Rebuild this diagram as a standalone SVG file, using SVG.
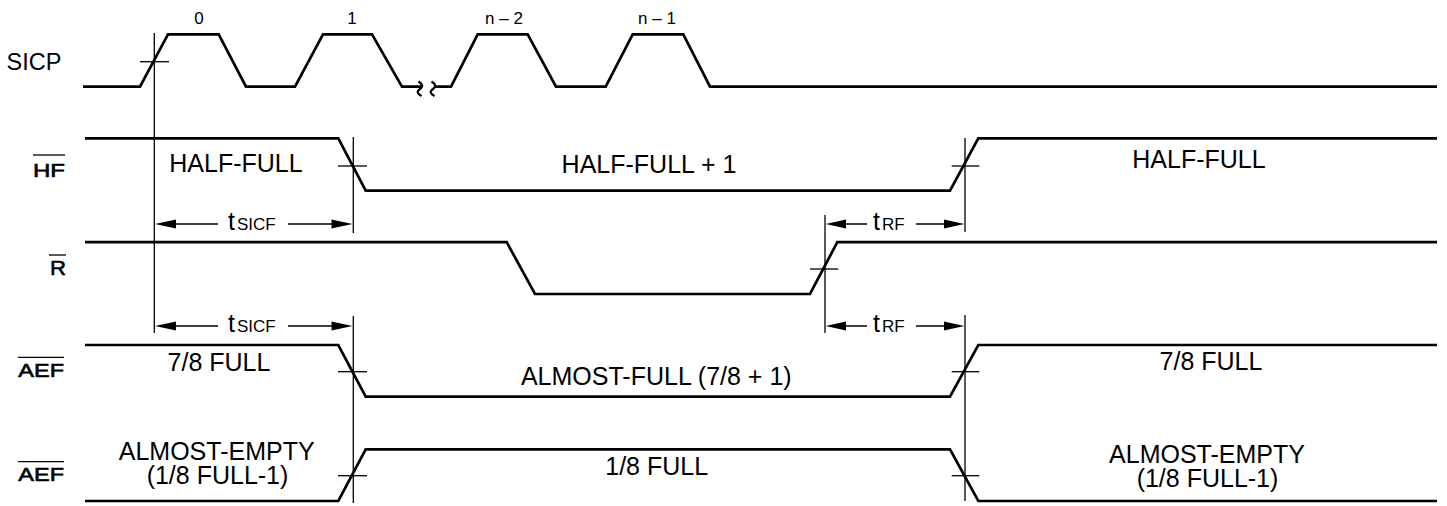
<svg xmlns="http://www.w3.org/2000/svg" width="1447" height="506" viewBox="0 0 1447 506">
<style>
  .wave { fill: none; stroke: #000; stroke-width: 2.7; stroke-linejoin: miter; }
  .thin { fill: none; stroke: #000; stroke-width: 1.3; }
  .brk { fill: none; stroke: #000; stroke-width: 2.2; }
  .head { fill: #000; stroke: none; }
  text { font-family: "Liberation Sans", Arial, sans-serif; fill: #000; }
  .lbl { font-size: 25px; text-anchor: middle; }
  .clk { font-size: 17px; text-anchor: middle; }
  .sig { font-size: 19px; stroke: #000; stroke-width: 0.6; }
  .sicp { font-size: 23.5px; }
  .sub { font-size: 17px; }
  .t { font-size: 25px; }
</style>
<rect width="1447" height="506" fill="#fff"/>

<g id="labels">
  <text class="sicp" x="6.5" y="70">SICP</text>
  <g id="label-hf"><text class="sig" x="33" y="176.7" textLength="32" lengthAdjust="spacingAndGlyphs">HF</text><line class="thin" x1="33" y1="155" x2="65" y2="155"/></g>
  <g id="label-r"><text class="sig" x="50" y="275" style="font-size:21px" textLength="16" lengthAdjust="spacingAndGlyphs">R</text><line class="thin" x1="49" y1="255" x2="66" y2="255"/></g>
  <g id="label-aef1"><text class="sig" x="18.3" y="377.3" textLength="45.7" lengthAdjust="spacingAndGlyphs">AEF</text><line class="thin" x1="18" y1="357.3" x2="64" y2="357.3"/></g>
  <g id="label-aef2"><text class="sig" x="18.3" y="480.7" textLength="45.7" lengthAdjust="spacingAndGlyphs">AEF</text><line class="thin" x1="18" y1="461.7" x2="64" y2="461.7"/></g>
</g>

<g id="sicp">
  <path class="wave" d="M83,86.7 L140,86.7 L168,34.3 L218.7,34.3 L246,86.7 L295,86.7 L323,34.3 L372,34.3 L402,86.7 L421,86.7"/>
  <path class="brk" d="M418.5,81.5 c4,2.5 5,5 1.5,7.5 c-3.5,2.5 -3,4.5 1.5,7"/>
  <path class="brk" d="M431.5,81.5 c4,2.5 5,5 1.5,7.5 c-3.5,2.5 -3,4.5 1.5,7"/>
  <path class="wave" d="M434,86.7 L451,86.7 L477.7,34.3 L527.7,34.3 L556,86.7 L605.7,86.7 L632.7,34.3 L683.3,34.3 L710,86.7 L1437,86.7"/>
  <text class="clk" x="199" y="24">0</text>
  <text class="clk" x="352" y="24">1</text>
  <text class="clk" x="504" y="24">n – 2</text>
  <text class="clk" x="657" y="24">n – 1</text>
</g>

<g id="hf">
  <path class="wave" d="M85,138.3 L338.3,138.3 L365.7,190.7 L950,190.7 L978.3,138.3 L1437,138.3"/>
  <text class="lbl" x="236" y="171.7">HALF-FULL</text>
  <text class="lbl" x="649" y="172.7">HALF-FULL + 1</text>
  <text class="lbl" x="1199" y="168.3">HALF-FULL</text>
</g>

<g id="r">
  <path class="wave" d="M85,242.2 L506.7,242.2 L535,294 L810,294 L837.3,242.2 L1437,242.2"/>
</g>

<g id="aef1">
  <path class="wave" d="M85,345 L338.3,345 L365.7,396.7 L950,396.7 L978.3,345 L1437,345"/>
  <text class="lbl" x="219" y="370.7">7/8 FULL</text>
  <text class="lbl" x="656.3" y="385">ALMOST-FULL (7/8 + 1)</text>
  <text class="lbl" x="1211" y="370">7/8 FULL</text>
</g>

<g id="aef2">
  <path class="wave" d="M85,501 L338.3,501 L365.7,449.3 L950,449.3 L978.3,501 L1437,501"/>
  <text class="lbl" x="216.7" y="460">ALMOST-EMPTY</text>
  <text class="lbl" x="217.5" y="484">(1/8 FULL-1)</text>
  <text class="lbl" x="656.7" y="475">1/8 FULL</text>
  <text class="lbl" x="1207" y="463.3">ALMOST-EMPTY</text>
  <text class="lbl" x="1207.5" y="487">(1/8 FULL-1)</text>
</g>

<g id="connectors">
  <line class="thin" x1="154.3" y1="33" x2="154.3" y2="333"/>
  <line class="thin" x1="353.3" y1="137" x2="353.3" y2="233"/>
  <line class="thin" x1="353.3" y1="316" x2="353.3" y2="503"/>
  <line class="thin" x1="825" y1="215" x2="825" y2="333"/>
  <line class="thin" x1="965" y1="138" x2="965" y2="232"/>
  <line class="thin" x1="965" y1="315" x2="965" y2="501"/>
  <line class="thin" x1="140" y1="61.7" x2="169" y2="61.7"/>
  <line class="thin" x1="338" y1="166" x2="367" y2="166"/>
  <line class="thin" x1="951.7" y1="166" x2="979.3" y2="166"/>
  <line class="thin" x1="810" y1="269" x2="838.3" y2="269"/>
  <line class="thin" x1="338" y1="371.7" x2="367" y2="371.7"/>
  <line class="thin" x1="951.7" y1="371.7" x2="979.3" y2="371.7"/>
  <line class="thin" x1="338" y1="475.7" x2="367" y2="475.7"/>
  <line class="thin" x1="951.7" y1="475.7" x2="979.3" y2="475.7"/>

  <line class="thin" x1="160" y1="224" x2="218" y2="224"/>
  <line class="thin" x1="288" y1="224" x2="348" y2="224"/>
  <polygon class="head" points="155,224 176,219.5 176,228.5"/>
  <polygon class="head" points="352.5,224 331.5,219.5 331.5,228.5"/>
  <text x="228" y="230"><tspan class="t">t</tspan><tspan class="sub" dx="2">SICF</tspan></text>

  <line class="thin" x1="830" y1="224" x2="867" y2="224"/>
  <line class="thin" x1="916" y1="224" x2="960" y2="224"/>
  <polygon class="head" points="825.7,224 846,219.5 846,228.5"/>
  <polygon class="head" points="964.3,224 944,219.5 944,228.5"/>
  <text x="873" y="230"><tspan class="t">t</tspan><tspan class="sub" dx="2">RF</tspan></text>

  <line class="thin" x1="160" y1="326" x2="218" y2="326"/>
  <line class="thin" x1="288" y1="326" x2="348" y2="326"/>
  <polygon class="head" points="155,326 176,321.5 176,330.5"/>
  <polygon class="head" points="352.5,326 331.5,321.5 331.5,330.5"/>
  <text x="228" y="332"><tspan class="t">t</tspan><tspan class="sub" dx="2">SICF</tspan></text>

  <line class="thin" x1="830" y1="326" x2="867" y2="326"/>
  <line class="thin" x1="916" y1="326" x2="960" y2="326"/>
  <polygon class="head" points="825.7,326 846,321.5 846,330.5"/>
  <polygon class="head" points="964.3,326 944,321.5 944,330.5"/>
  <text x="873" y="332"><tspan class="t">t</tspan><tspan class="sub" dx="2">RF</tspan></text>
</g>
</svg>
